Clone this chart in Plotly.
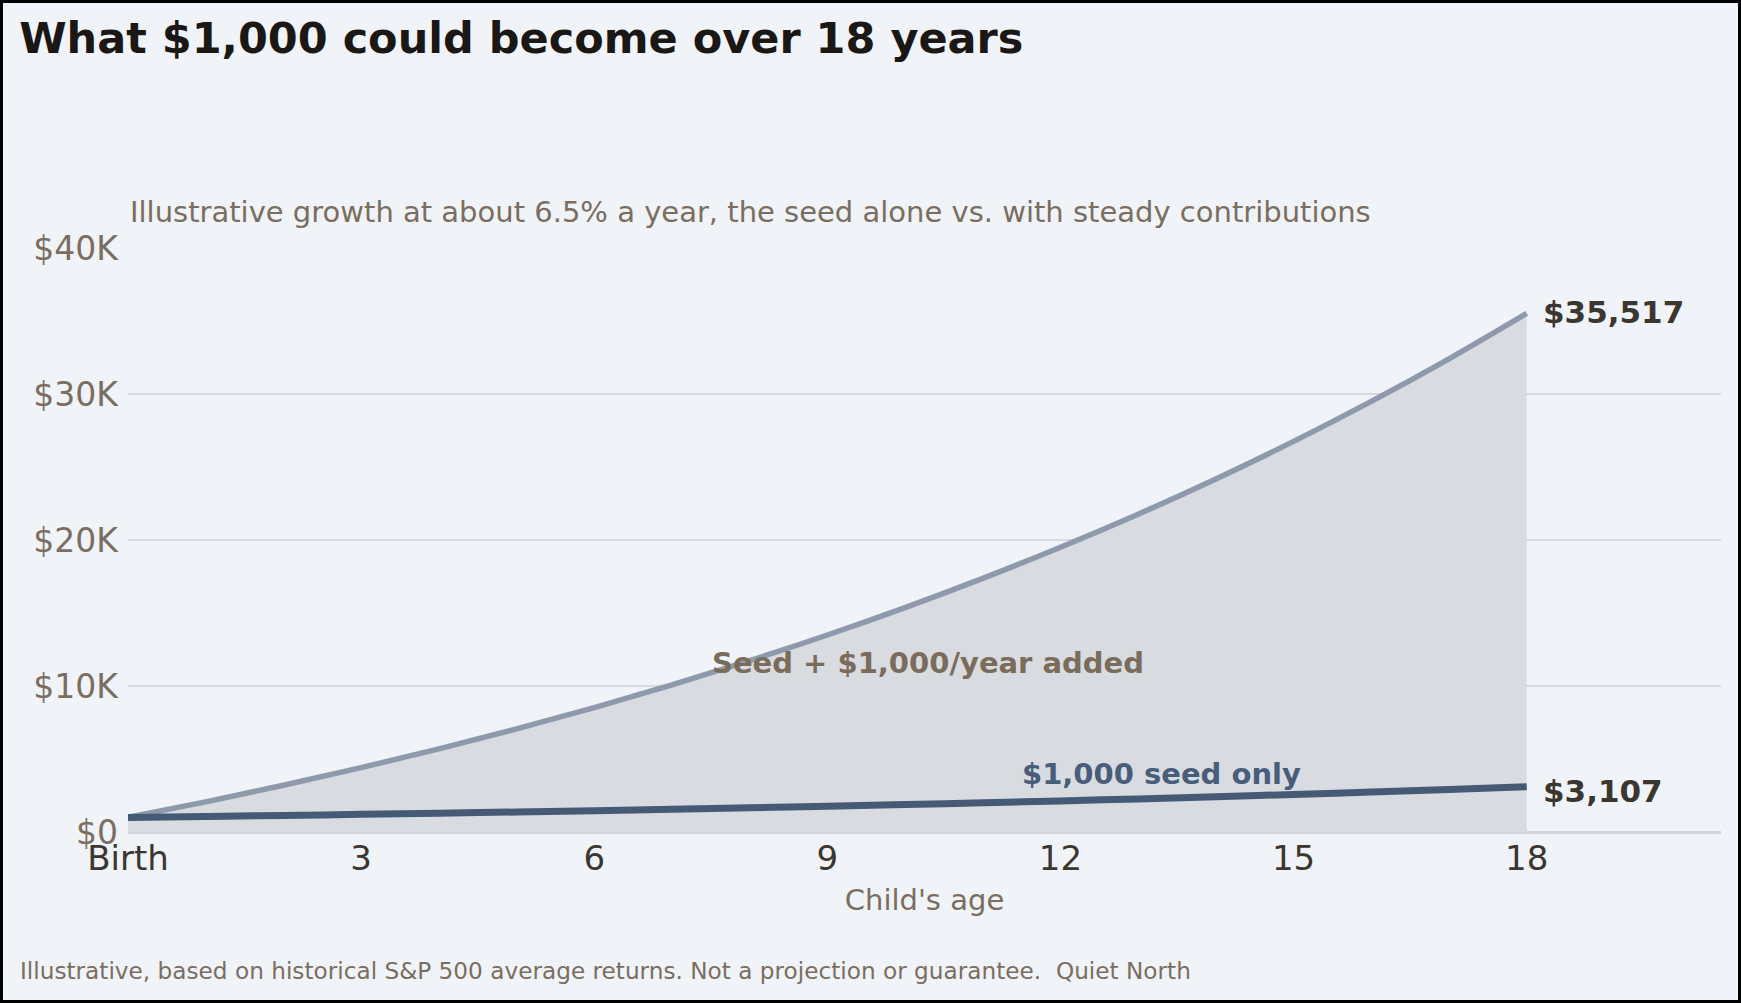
import plotly.graph_objects as go

# child's age in years
ages = list(range(0, 19))

# seed alone, growing ~6.5% a year
seed_only = [1000, 1065, 1134, 1208, 1286, 1370, 1459, 1554, 1655, 1763,
             1877, 1999, 2129, 2267, 2415, 2572, 2739, 2917, 3107]

# seed plus $1,000 added each year
with_contrib = [1000, 2065, 3199, 4407, 5694, 7064, 8523, 10077, 11732, 13494,
                15372, 17371, 19500, 21767, 24182, 26754, 29493, 32410, 35517]

x_tickvals = [0, 3, 6, 9, 12, 15, 18]
x_ticktext = ["Birth", "3", "6", "9", "12", "15", "18"]
y_tickvals = [0, 10000, 20000, 30000, 40000]
y_ticktext = ["$0", "$10K", "$20K", "$30K", "$40K"]

FONT = "DejaVu Sans"
BG = "#f0f3f8"
BROWN = "#7a6e60"
DARK = "#3b3630"

fig = go.Figure()

fig.add_trace(
    go.Scatter(
        x=ages,
        y=with_contrib,
        mode="lines",
        name="Seed + $1,000/year added",
        line=dict(color="#8e9aab", width=5.5, shape="spline"),
        fill="tozeroy",
        fillcolor="#d8dbe0",
        hoverinfo="skip",
    )
)

fig.add_trace(
    go.Scatter(
        x=ages,
        y=seed_only,
        mode="lines",
        name="$1,000 seed only",
        line=dict(color="#475a75", width=7, shape="spline"),
        hoverinfo="skip",
    )
)

# end-of-line value labels
fig.add_annotation(x=ages[-1], y=with_contrib[-1], text="<b>$35,517</b>",
                   showarrow=False, xanchor="left", xshift=14, yshift=1,
                   font=dict(family=FONT, size=31, color=DARK))
fig.add_annotation(x=ages[-1], y=seed_only[-1], text="<b>$3,107</b>",
                   showarrow=False, xanchor="left", xshift=14, yshift=-4,
                   font=dict(family=FONT, size=31, color=DARK))

# series labels
fig.add_annotation(x=10.3, y=11550, text="<b>Seed + $1,000/year added</b>",
                   showarrow=False,
                   font=dict(family=FONT, size=29, color="#7a6c5a"))
fig.add_annotation(x=13.3, y=4000, text="<b>$1,000 seed only</b>",
                   showarrow=False,
                   font=dict(family=FONT, size=29, color="#485d7a"))

# subtitle
fig.add_annotation(xref="paper", yref="paper", x=0, y=1, yshift=17,
                   xanchor="left", yanchor="bottom", showarrow=False,
                   text="Illustrative growth at about 6.5% a year, the seed alone vs. with steady contributions",
                   font=dict(family=FONT, size=29, color=BROWN))

# footer
fig.add_annotation(xref="paper", yref="paper", x=-110 / 1593, y=-0.2375,
                   xanchor="left", yanchor="middle", showarrow=False,
                   text="Illustrative, based on historical S&P 500 average returns. Not a projection or guarantee.  Quiet North",
                   font=dict(family=FONT, size=23.2, color=BROWN))

# black frame round the whole picture
fig.add_shape(type="rect", xref="paper", yref="paper",
              x0=-128 / 1593, x1=1613 / 1593, y0=-171 / 584, y1=832 / 584,
              line=dict(color="black", width=6), layer="above")

fig.update_layout(
    width=1741,
    height=1003,
    margin=dict(l=128, r=20, t=248, b=171),
    paper_bgcolor=BG,
    plot_bgcolor=BG,
    showlegend=False,
    font=dict(family=FONT),
    title=dict(
        text="<b>What $1,000 could become over 18 years</b>",
        xref="container", x=0.011, xanchor="left",
        yref="container", y=0.977, yanchor="top",
        font=dict(family=FONT, size=43, color="#1a1714"),
    ),
    xaxis=dict(
        range=[0, 20.5],
        tickvals=x_tickvals,
        ticktext=x_ticktext,
        showgrid=False,
        zeroline=False,
        showline=False,
        ticklabelstandoff=3,
        tickfont=dict(family=FONT, size=34, color=DARK),
        title=dict(text="Child's age", standoff=12,
                   font=dict(family=FONT, size=29, color=BROWN)),
    ),
    yaxis=dict(
        range=[0, 40000],
        tickvals=y_tickvals,
        ticktext=y_ticktext,
        showgrid=True,
        gridcolor="#d8dadf",
        gridwidth=2,
        zeroline=True,
        zerolinecolor="#d3d6db",
        zerolinewidth=3,
        showline=False,
        ticklabelstandoff=9,
        tickfont=dict(family=FONT, size=33, color=BROWN),
    ),
)

# drop the page's default body margin so the figure sits flush in the window
fig.write_html("out.html", config={"displayModeBar": False},
               post_script="document.body.style.margin='0';")
